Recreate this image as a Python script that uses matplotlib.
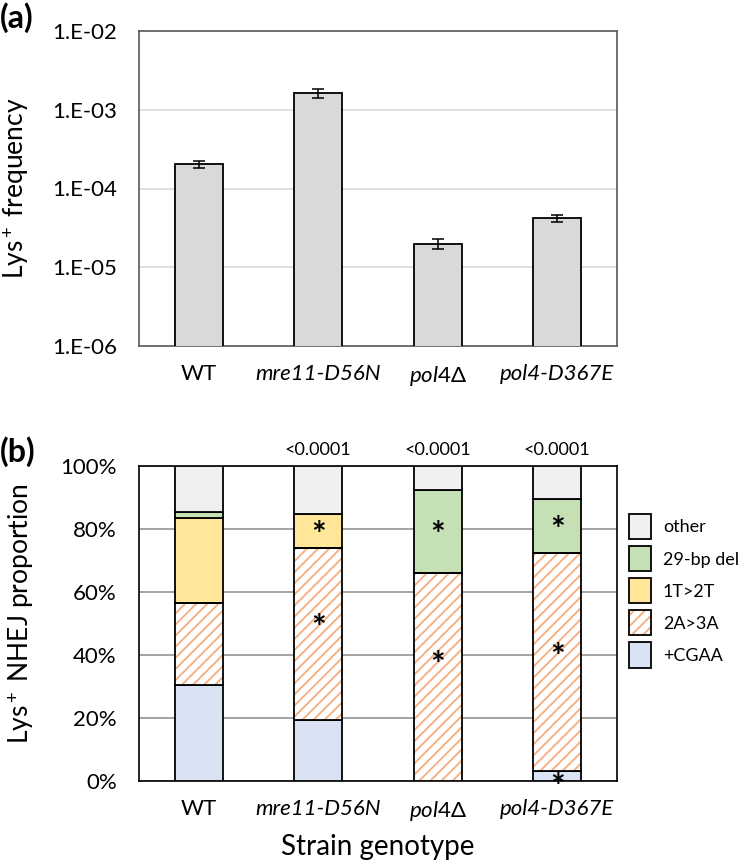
import matplotlib
matplotlib.use("Agg")
import matplotlib.pyplot as plt
import numpy as np
from matplotlib.patches import Patch
from matplotlib.ticker import FixedLocator, FuncFormatter

plt.rcParams['font.family'] = ['Lato', 'DejaVu Sans']
plt.rcParams['mathtext.fontset'] = 'custom'
plt.rcParams['mathtext.rm'] = 'Lato'
plt.rcParams['mathtext.it'] = 'Lato:italic'
plt.rcParams['hatch.linewidth'] = 1.4

# data
strains = ['WT', 'mre11-D56N', '$\\mathit{pol4}$\u0394', 'pol4-D367E']
italic = [False, True, False, True]

freq = [2.03e-4, 1.62e-3, 1.99e-5, 4.2e-5]
freq_err = [2.3e-5, 2.3e-4, 3.0e-6, 4.5e-6]

categories = ['+CGAA', '2A>3A', '1T>2T', '29-bp del', 'other']
cgaa = [30.6, 19.3, 0.0, 3.2]
a2a3 = [26.0, 54.8, 66.1, 69.3]
t1t2 = [26.9, 10.8, 0.0, 0.0]
del29 = [1.8, 0.0, 26.4, 16.9]
other = [14.7, 15.1, 7.5, 10.6]
pvals = ['', '<0.0001', '<0.0001', '<0.0001']
# asterisks: (category, strain index) -> label height in %
stars = {('1T>2T', 1): 81.1, ('2A>3A', 1): 51.7, ('2A>3A', 2): 40.0, ('2A>3A', 3): 42.6,
         ('29-bp del', 2): 81.1, ('29-bp del', 3): 82.7, ('+CGAA', 3): 1.3}

colors = {'+CGAA': '#dae3f3', '2A>3A': 'white', '1T>2T': '#ffe699',
          '29-bp del': '#c5e0b4', 'other': '#f0f0f2'}
hatch_col = '#f4b183'

fig = plt.figure(figsize=(7.41, 8.6), dpi=100)
W, H = 741, 860
axa = fig.add_axes([139 / W, 1 - 346 / H, 478 / W, 315 / H])
axb = fig.add_axes([139 / W, 1 - 781 / H, 478 / W, 315 / H])

x = np.arange(len(strains))
bw = 0.4


def setup_xlabels(ax):
    ax.set_xticks(x)
    ax.set_xticklabels(strains, fontsize=16)
    for lab, it in zip(ax.get_xticklabels(), italic):
        if it:
            lab.set_fontstyle('italic')
    ax.set_xlim(-0.5, 3.5)


# ---- panel (a)
axa.bar(x, freq, width=bw, color='#d9d9d9', edgecolor='black', linewidth=1.3, zorder=3)
axa.errorbar(x, freq, yerr=freq_err, fmt='none', ecolor='black', elinewidth=1.1,
             capsize=4, capthick=1.1, zorder=4)
axa.set_yscale('log')
axa.set_ylim(1e-6, 1e-2)
axa.yaxis.set_major_locator(FixedLocator([1e-6, 1e-5, 1e-4, 1e-3, 1e-2]))
axa.yaxis.set_minor_locator(FixedLocator([]))
axa.yaxis.set_major_formatter(FuncFormatter(lambda v, p: '1.E-%02d' % round(-np.log10(v))))
axa.grid(axis='y', color='#d9d9d9', linewidth=1.2, zorder=0)
axa.set_axisbelow(True)
for s in axa.spines.values():
    s.set_color('#595959')
    s.set_linewidth(1.2)
axa.tick_params(axis='both', length=0, labelsize=16)
axa.tick_params(axis='y', pad=16)
axa.tick_params(axis='x', pad=13)
setup_xlabels(axa)
axa.set_ylabel('Lys$^+$ frequency', fontsize=19)
axa.yaxis.set_label_coords(-0.226, 0.5)
fig.text(0, 1 - 18 / H, '(a)', fontsize=23, fontweight='bold', va='center', ha='left')

# ---- panel (b)
series = [cgaa, a2a3, t1t2, del29, other]
star_fs = 25
bottom = np.zeros(len(strains))
for cat, vals in zip(categories, series):
    vals = np.array(vals)
    for i in range(len(strains)):
        if vals[i] <= 0:
            continue
        if cat == '2A>3A':
            axb.bar(x[i], vals[i], bottom=bottom[i], width=bw, color='white',
                    edgecolor=hatch_col, hatch='///', linewidth=0, zorder=3)
            axb.bar(x[i], vals[i], bottom=bottom[i], width=bw, fill=False,
                    edgecolor='black', linewidth=1.3, zorder=4)
        else:
            axb.bar(x[i], vals[i], bottom=bottom[i], width=bw, color=colors[cat],
                    edgecolor='black', linewidth=1.3, zorder=3)
        if (cat, i) in stars:
            axb.annotate('*', (x[i], stars[(cat, i)]), xytext=(0, -0.6 * star_fs),
                         textcoords='offset points', ha='center', va='baseline',
                         fontsize=star_fs, fontweight='bold', zorder=5,
                         annotation_clip=False)
    bottom += vals

for i, p in enumerate(pvals):
    if p:
        axb.text(x[i], 102.5, p, ha='center', va='bottom', fontsize=13)

axb.set_ylim(0, 100)
axb.set_yticks(np.arange(0, 101, 20))
axb.yaxis.set_major_formatter(FuncFormatter(lambda v, p: '%d%%' % v))
axb.grid(axis='y', color='#8c8c8c', linewidth=1.1, zorder=0)
axb.set_axisbelow(True)
for s in axb.spines.values():
    s.set_color('black')
    s.set_linewidth(1.2)
axb.tick_params(axis='both', length=0, labelsize=16)
axb.tick_params(axis='y', pad=16)
axb.tick_params(axis='x', pad=13)
setup_xlabels(axb)
axb.set_ylabel('Lys$^+$ NHEJ proportion', fontsize=19)
axb.yaxis.set_label_coords(-0.215, 0.53)
axb.set_xlabel('Strain genotype', fontsize=20, labelpad=8)
fig.text(0, 1 - 452 / H, '(b)', fontsize=23, fontweight='bold', va='center', ha='left')

# legend (top entry first)
handles = []
for cat in categories[::-1]:
    if cat == '2A>3A':
        handles.append((Patch(facecolor='white', edgecolor=hatch_col, hatch='///', linewidth=0),
                        Patch(fill=False, edgecolor='black', linewidth=1.3)))
    else:
        handles.append(Patch(facecolor=colors[cat], edgecolor='black', linewidth=1.3))
fig.legend(handles, categories[::-1], loc='upper left', bbox_to_anchor=(629 / W, 1 - 514 / H),
           frameon=False, fontsize=13, borderpad=0, borderaxespad=0,
           handlelength=1.22, handleheight=1.76, labelspacing=0.39, handletextpad=0.65)

fig.savefig('out.png', dpi=100)
